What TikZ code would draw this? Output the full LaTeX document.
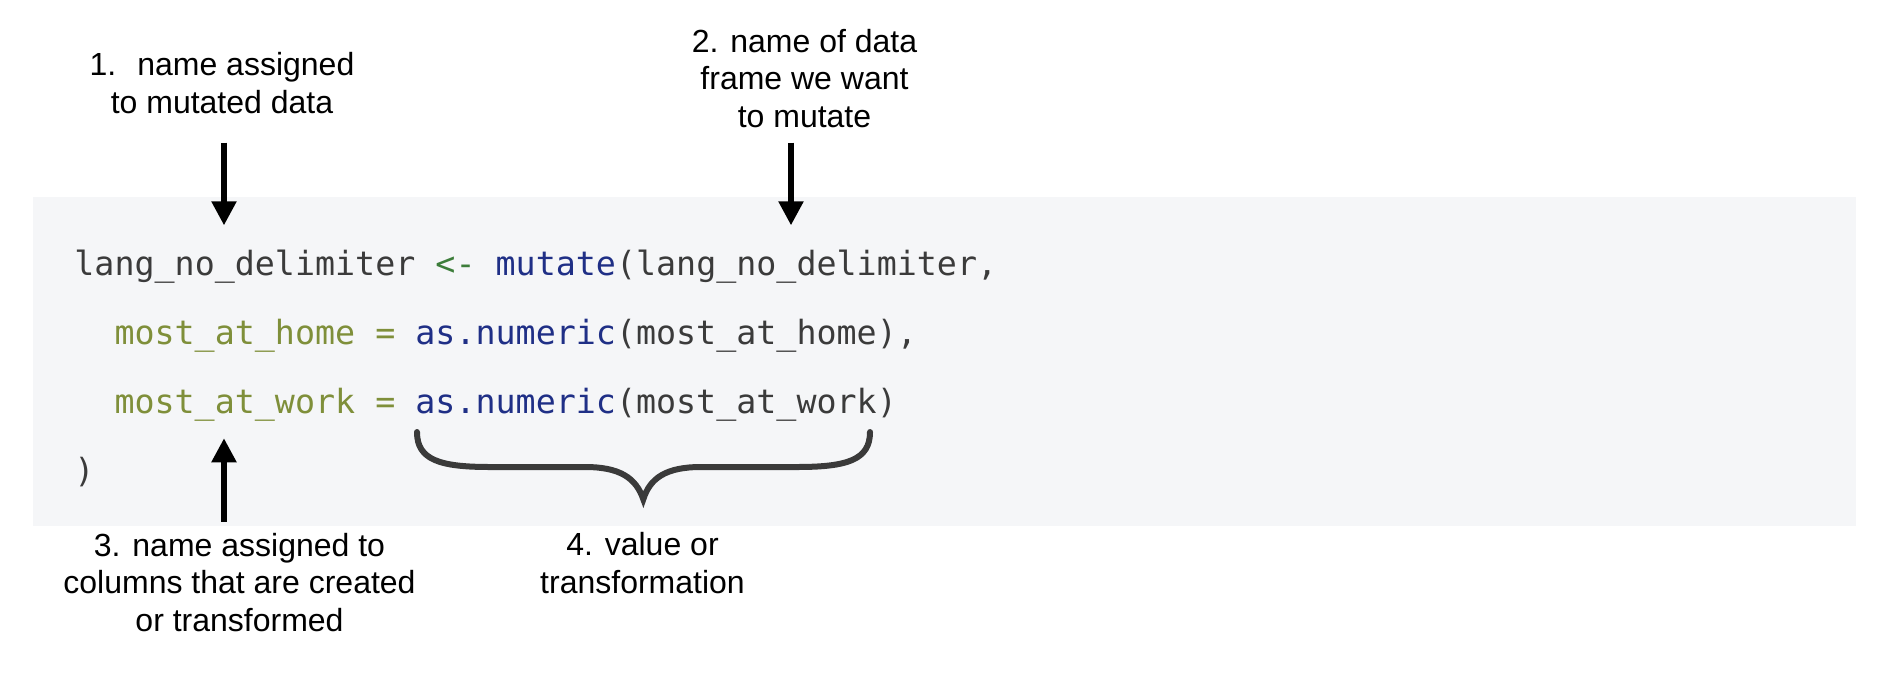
\documentclass[tikz,border=0pt]{standalone}
\usepackage{fontspec}
\setmainfont{Liberation Sans}
\newfontfamily\codefont{DejaVu Sans Mono}
\usetikzlibrary{arrows.meta}
\definecolor{boxbg}{HTML}{F5F6F8}
\definecolor{cgray}{HTML}{3B3B3B}
\definecolor{cgreen}{HTML}{3C7D3A}
\definecolor{colive}{HTML}{7F8F3A}
\definecolor{cblue}{HTML}{1F2F86}
\definecolor{bracecol}{HTML}{3A3A3A}
\tikzset{
  codeline/.style={anchor=base west, inner sep=0pt, text=cgray,
    font=\codefont\fontsize{16.66}{20}\selectfont},
  label/.style={anchor=base, inner sep=0pt, align=center,
    font=\fontsize{16}{18.9}\selectfont},
  pointer/.style={line width=2.7pt, -{Triangle[length=12pt,width=12pt]}},
  bracestyle/.style={line width=3pt, draw=bracecol, line cap=round}
}
\begin{document}
\begin{tikzpicture}[x=0.5pt,y=-0.5pt]
\useasboundingbox (0,0) rectangle (1896,687);
% code box
\fill[boxbg] (33.3,196.7) rectangle (1856,526);
% code
\node[codeline] (c1) at (74,275.3) {lang\_no\_delimiter \textcolor{cgreen}{<-} \textcolor{cblue}{mutate}(lang\_no\_delimiter,};
\node[codeline] (c2) at (114.1,344.3) {\textcolor{colive}{most\_at\_home =} \textcolor{cblue}{as.numeric}(most\_at\_home),};
\node[codeline] (c3) at (114.1,413.3) {\textcolor{colive}{most\_at\_work =} \textcolor{cblue}{as.numeric}(most\_at\_work)};
\node[codeline] (c4) at (74,482.3) {)};
% labels (base anchor = baseline of the last line)
\node[label] (l1) at (222,113.3) {1.\hspace{10.5pt}name assigned\\to mutated data};
\node[label] (l2) at (804.5,127.7) {2. name of data\\frame we want\\to mutate};
\node[label] (l3) at (239.5,631.7) {3. name assigned to\\columns that are created\\or transformed};
\node[label] (l4) at (642.5,593.3) {4. value or\\transformation};
% arrows
\coordinate (a1s) at (224,142.7);
\coordinate (a1e) at (224,225.3);
\coordinate (a2s) at (791,142.7);
\coordinate (a2e) at (791,225.3);
\coordinate (a3s) at (224,521.7);
\coordinate (a3e) at (224,438.3);
\draw[pointer] (a1s) -- (a1e);
\draw[pointer] (a2s) -- (a2e);
\draw[pointer] (a3s) -- (a3e);
% brace
\coordinate (bl) at (417,432);
\coordinate (bt) at (643.3,499.3);
\coordinate (br) at (870,432);
\draw[bracestyle] (bl) .. controls (417,460) and (440,467) .. (490,467)
  -- (585,467) .. controls (620,467) and (636,478) .. (bt)
  .. controls (650,478) and (666,467) .. (701,467)
  -- (797,467) .. controls (847,467) and (870,460) .. (br);
\end{tikzpicture}
\end{document}
